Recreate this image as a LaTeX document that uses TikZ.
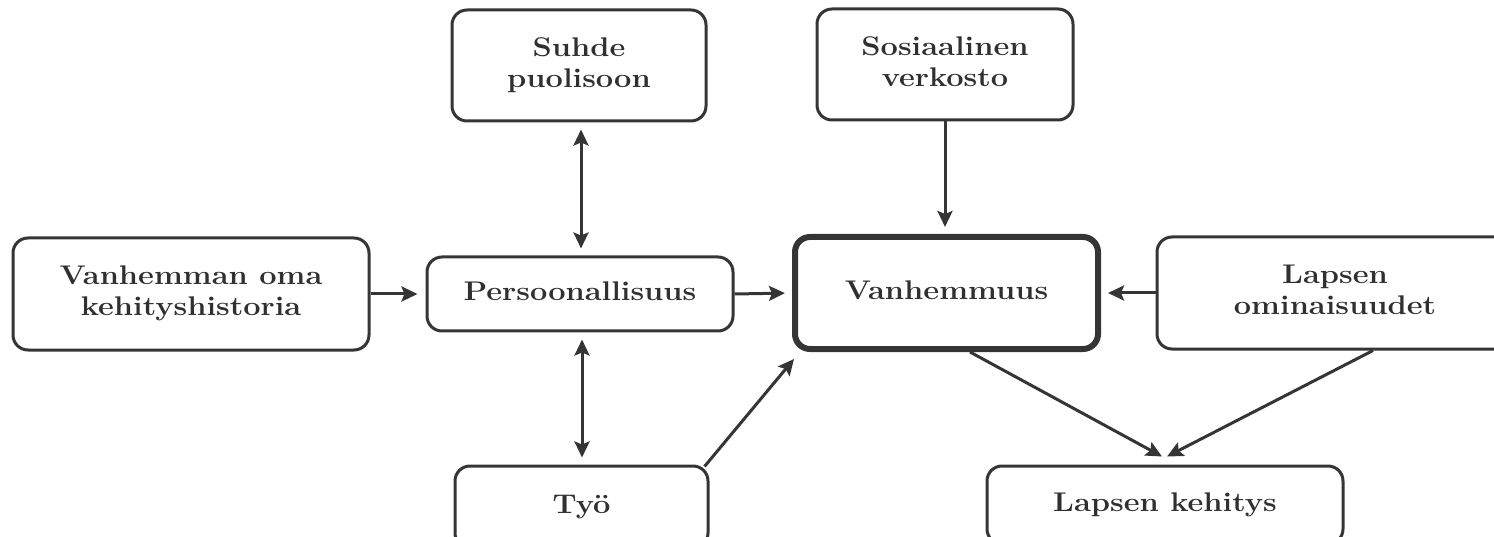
\documentclass[tikz,border=0pt]{standalone}
\usepackage{graphicx}
\usetikzlibrary{arrows.meta,calc}
\definecolor{ink}{HTML}{353535}
\definecolor{txt}{HTML}{303030}
\newcommand{\boxtext}[1]{\scalebox{1.14}[1]{\begin{tabular}{@{}c@{}}#1\end{tabular}}}
\tikzset{
  box/.style={draw=ink, line width=3pt, rounded corners=15pt, fill=white,
    text=txt, font=\fontsize{27}{31}\selectfont\bfseries, inner sep=0pt, align=center},
  mainbox/.style={box, line width=6pt},
  tip/.style={Stealth[length=16pt,width=15pt,inset=3pt]},
  conn/.style={draw=ink, line width=3pt, -{Stealth[length=16pt,width=15pt,inset=3pt]}},
  biconn/.style={draw=ink, line width=3pt, {Stealth[length=16pt,width=15pt,inset=3pt]}-{Stealth[length=16pt,width=15pt,inset=3pt]}}
}
\begin{document}
\begin{tikzpicture}[x=1pt,y=-1pt]
\useasboundingbox (0,0) rectangle (1494,537);
\clip (0,0) rectangle (1494,537);
\node[box, minimum width=356pt, minimum height=112pt] (hist) at (191,294) {\boxtext{Vanhemman oma\\kehityshistoria}};
\node[box, minimum width=306pt, minimum height=74pt] (pers) at (580,294) {\boxtext{Persoonallisuus}};
\node[box, minimum width=254pt, minimum height=111pt] (suhde) at (579,65.5) {\boxtext{Suhde\\puolisoon}};
\node[box, minimum width=256pt, minimum height=111pt] (sos) at (945,64.5) {\boxtext{Sosiaalinen\\verkosto}};
\node[mainbox, minimum width=303pt, minimum height=112pt] (vanh) at (946.5,293) {\boxtext{Vanhemmuus}};
\node[box, minimum width=356pt, minimum height=112pt] (lomin) at (1335,293) {\boxtext{Lapsen\\ominaisuudet}};
\node[box, minimum width=253pt, minimum height=82pt] (tyo) at (581.5,507) {\boxtext{Työ}};
\node[box, minimum width=356pt, minimum height=78pt] (lkeh) at (1165,505) {\boxtext{Lapsen kehitys}};

\draw[conn, shorten >=8pt] (hist.east) -- (pers.west);
\draw[conn, shorten >=7pt] (pers.east) -- (vanh.west);
\draw[conn, shorten >=7pt] (sos.south) -- (sos.south |- vanh.north);
\draw[conn, shorten >=7pt] (lomin.west) -- (vanh.east);
\draw[biconn, shorten >=7pt, shorten <=7pt] ([xshift=2pt]suhde.south) -- ([xshift=2pt]suhde.south |- pers.north);
\draw[biconn, shorten >=7pt, shorten <=7pt] ([xshift=2pt]pers.south) -- ([xshift=2pt]pers.south |- tyo.north);
\draw[conn] ([xshift=-5pt,yshift=-2pt]tyo.north east) -- ([xshift=2pt,yshift=-7pt]vanh.south west);
\draw[conn] ([xshift=23.5pt]vanh.south) -- ([xshift=-3pt,yshift=8pt]lkeh.north);
\draw[conn] ([xshift=38pt]lomin.south) -- ([xshift=2pt,yshift=8pt]lkeh.north);
\end{tikzpicture}
\end{document}
